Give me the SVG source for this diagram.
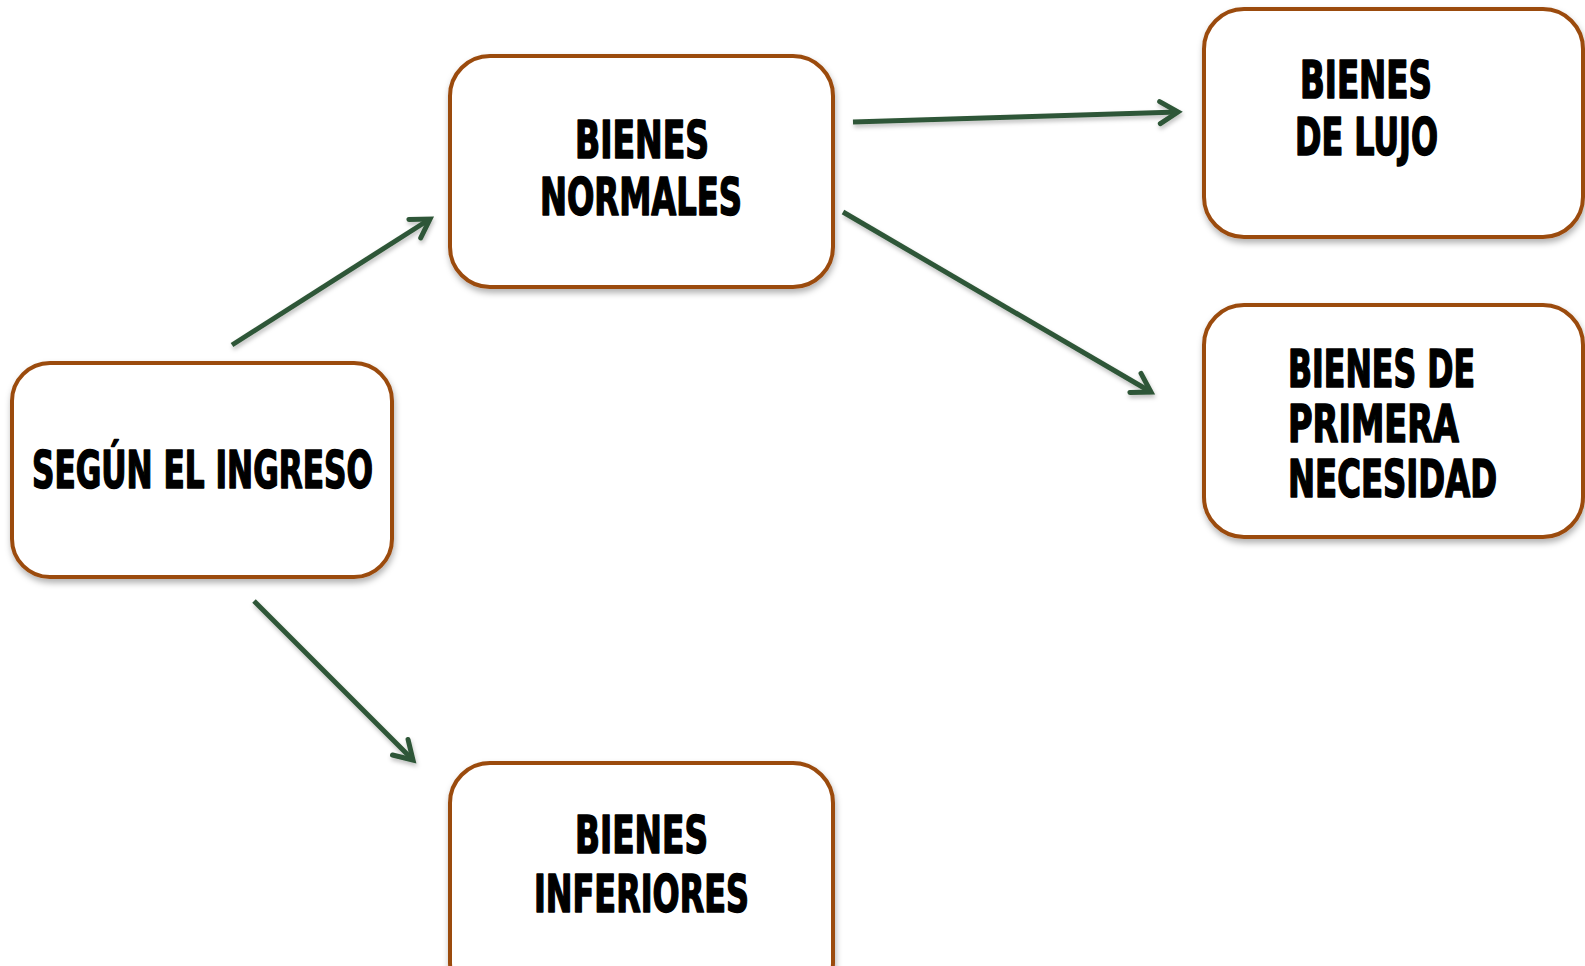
<svg xmlns="http://www.w3.org/2000/svg" width="1585" height="966" viewBox="0 0 1585 966">
<defs>
<style>
.box{fill:#ffffff;stroke:#9b4b10;stroke-width:4;filter:url(#sh)}
.lbl{font-family:"Liberation Sans Narrow","DejaVu Sans Condensed","Liberation Sans",sans-serif;font-weight:700;font-size:52px;fill:#000000;stroke:#000000;stroke-width:1.6;stroke-linejoin:round}
.con{fill:none;stroke:#2f5737;stroke-width:5;marker-end:url(#arr)}
</style>
<filter id="sh" x="-10%" y="-10%" width="120%" height="130%">
<feDropShadow dx="1" dy="4" stdDeviation="3" flood-color="#000" flood-opacity="0.3"/>
</filter>
<filter id="sh2" filterUnits="userSpaceOnUse" x="0" y="0" width="1585" height="966">
<feDropShadow dx="1" dy="3" stdDeviation="2" flood-color="#000" flood-opacity="0.25"/>
</filter>
<marker id="arr" markerUnits="userSpaceOnUse" markerWidth="30" markerHeight="30" viewBox="-24 -15 30 30" refX="0" refY="0" orient="auto">
<path d="M-18,-11 L0,0 L-18,11" fill="none" stroke="#2f5737" stroke-width="5" stroke-linecap="round" stroke-linejoin="miter"/>
</marker>
</defs>
<rect width="1585" height="966" fill="#ffffff"/>
<g id="connectors" filter="url(#sh2)">
<line class="con" x1="232" y1="345" x2="430" y2="219"/>
<line class="con" x1="853" y1="122" x2="1178" y2="112"/>
<line class="con" x1="843" y1="212" x2="1151" y2="392"/>
<line class="con" x1="254" y1="601" x2="413" y2="760"/>
</g>
<g id="segun">
<rect class="box" x="12" y="363" width="380" height="214" rx="38"/>
<text class="lbl" x="32" y="488" textLength="341" lengthAdjust="spacingAndGlyphs">SEGÚN EL INGRESO</text>
</g>
<g id="normales">
<rect class="box" x="450" y="56" width="383" height="231" rx="40"/>
<text class="lbl" x="575" y="158" textLength="134" lengthAdjust="spacingAndGlyphs">BIENES</text>
<text class="lbl" x="540" y="215" textLength="202" lengthAdjust="spacingAndGlyphs">NORMALES</text>
</g>
<g id="lujo">
<rect class="box" x="1204" y="9" width="379" height="228" rx="40"/>
<text class="lbl" x="1300" y="98" textLength="132" lengthAdjust="spacingAndGlyphs">BIENES</text>
<text class="lbl" x="1295" y="155" textLength="143" lengthAdjust="spacingAndGlyphs">DE LUJO</text>
</g>
<g id="primera">
<rect class="box" x="1204" y="305" width="379" height="232" rx="40"/>
<text class="lbl" x="1288" y="387" textLength="187" lengthAdjust="spacingAndGlyphs">BIENES DE</text>
<text class="lbl" x="1288" y="442" textLength="171" lengthAdjust="spacingAndGlyphs">PRIMERA</text>
<text class="lbl" x="1288" y="497" textLength="209" lengthAdjust="spacingAndGlyphs">NECESIDAD</text>
</g>
<g id="inferiores">
<rect class="box" x="450" y="763" width="383" height="240" rx="40"/>
<text class="lbl" x="575" y="853" textLength="133" lengthAdjust="spacingAndGlyphs">BIENES</text>
<text class="lbl" x="534" y="912" textLength="215" lengthAdjust="spacingAndGlyphs">INFERIORES</text>
</g>
</svg>
